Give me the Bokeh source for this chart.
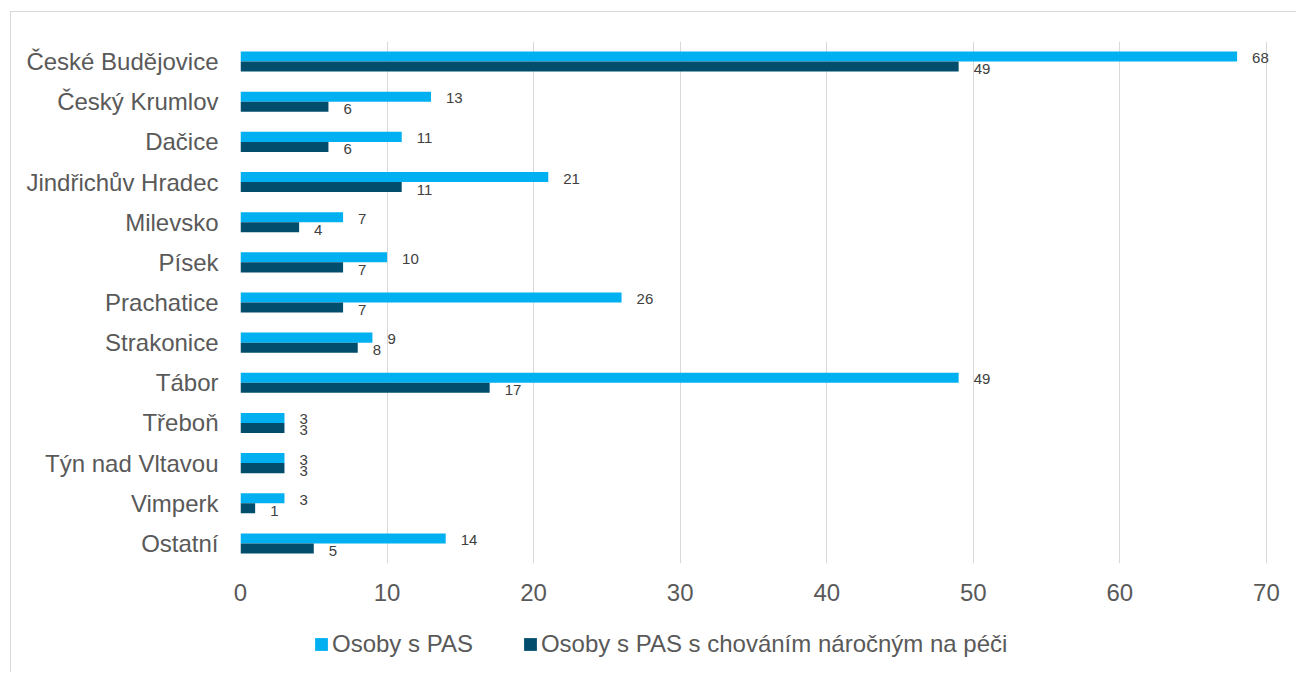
from bokeh.plotting import figure
from bokeh.layouts import column
from bokeh.models import (ColumnDataSource, FactorRange, Range1d, FixedTicker,
                          Legend, LegendItem)
from bokeh.transform import dodge
from bokeh.core.properties import value
from bokeh.embed import file_html
from bokeh.resources import INLINE

# Regions (top to bottom) and counts
regions = ["České Budějovice", "Český Krumlov", "Dačice", "Jindřichův Hradec",
           "Milevsko", "Písek", "Prachatice", "Strakonice", "Tábor", "Třeboň",
           "Týn nad Vltavou", "Vimperk", "Ostatní"]
osoby_pas = [68, 13, 11, 21, 7, 10, 26, 9, 49, 3, 3, 3, 14]
osoby_pas_narocne = [49, 6, 6, 11, 4, 7, 7, 8, 17, 3, 3, 1, 5]
x_ticks = [0, 10, 20, 30, 40, 50, 60, 70]

series_names = ["Osoby s PAS", "Osoby s PAS s chováním náročným na péči"]
colors = ["#00B0F0", "#024D6C"]
FONT = "Liberation Sans"
BORDER = "1px solid #d9d9d9"

source = ColumnDataSource(dict(
    region=regions,
    pas=osoby_pas,
    narocne=osoby_pas_narocne,
    pas_lbl=[str(v) for v in osoby_pas],
    narocne_lbl=[str(v) for v in osoby_pas_narocne],
))

# ---- main bar chart ----
# the x range runs a little past 70 so the value label of the longest bar fits
p = figure(
    y_range=FactorRange(factors=list(reversed(regions)), range_padding=0),
    x_range=Range1d(0, 70.96),
    width=1286, height=608,
    output_backend="svg", toolbar_location=None,
    min_border_left=229, min_border_right=17,
    min_border_top=29, min_border_bottom=57,
)
p.margin = (11, 0, 0, 10)
p.styles = {"border-top": BORDER, "border-left": BORDER}
p.outline_line_color = None

bar_h = 0.25
p.hbar(y=dodge("region", bar_h / 2, range=p.y_range), right="pas", left=0,
       height=bar_h, source=source, fill_color=colors[0], line_color=None)
p.hbar(y=dodge("region", -bar_h / 2, range=p.y_range), right="narocne", left=0,
       height=bar_h, source=source, fill_color=colors[1], line_color=None)

# value labels next to the bar ends
p.text(x="pas", y=dodge("region", bar_h / 2, range=p.y_range), text="pas_lbl",
       source=source, x_offset=15, y_offset=1.5, text_align="left",
       text_baseline="middle", text_font=value(FONT), text_font_size="15px",
       text_color="#404040")
p.text(x="narocne", y=dodge("region", -bar_h / 2, range=p.y_range), text="narocne_lbl",
       source=source, x_offset=15, y_offset=2.5, text_align="left",
       text_baseline="middle", text_font=value(FONT), text_font_size="15px",
       text_color="#404040")

p.xaxis.ticker = FixedTicker(ticks=x_ticks)
p.xaxis.axis_line_color = None
p.xaxis.major_tick_line_color = None
p.xaxis.minor_tick_line_color = None
p.xaxis.major_tick_out = 0
p.xaxis.major_label_standoff = 20
p.xaxis.major_label_text_font = FONT
p.xaxis.major_label_text_font_size = "24px"
p.xaxis.major_label_text_color = "#595959"

p.yaxis.axis_line_color = None
p.yaxis.major_tick_line_color = None
p.yaxis.major_tick_out = 0
p.yaxis.major_label_standoff = 22
p.yaxis.major_label_text_font = FONT
p.yaxis.major_label_text_font_size = "24px"
p.yaxis.major_label_text_color = "#595959"

p.ygrid.grid_line_color = None
p.xgrid.ticker = FixedTicker(ticks=x_ticks)
p.xgrid.grid_line_color = "#d9d9d9"
p.xgrid.grid_line_width = 1

# ---- legend strip ----
pl = figure(width=1286, height=53, output_backend="svg", toolbar_location=None,
            x_range=Range1d(0, 1), y_range=Range1d(0, 1),
            x_axis_location=None, y_axis_location=None,
            min_border=0, min_border_left=0, min_border_right=0,
            min_border_top=0, min_border_bottom=0)
pl.margin = (0, 0, 0, 10)
pl.styles = {"border-left": BORDER}
pl.outline_line_color = None
pl.grid.visible = False
# zero-width keys: they only supply the legend swatches
key_src = ColumnDataSource(dict(y=[0.5], left=[0], right=[0]))
k1 = pl.hbar(y="y", left="left", right="right", height=0.1, source=key_src,
             fill_color=colors[0], line_color=None)
k2 = pl.hbar(y="y", left="left", right="right", height=0.1, source=key_src,
             fill_color=colors[1], line_color=None)

legend = Legend(
    items=[LegendItem(label=series_names[0], renderers=[k1]),
           LegendItem(label=series_names[1], renderers=[k2])],
    location=(73, 14), orientation="horizontal",
    glyph_width=16, glyph_height=16, label_standoff=3, spacing=49,
    padding=0, margin=0, border_line_color=None, background_fill_alpha=0,
    label_text_font=FONT, label_text_font_size="24px", label_text_color="#595959",
)
pl.add_layout(legend)

layout = column(p, pl, spacing=0)
open("out.html", "w").write(file_html(layout, INLINE))
